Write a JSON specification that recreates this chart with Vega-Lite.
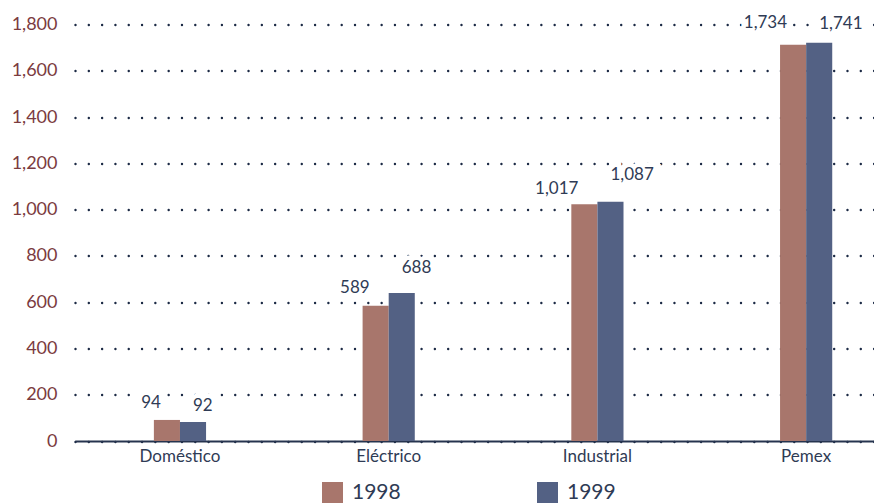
{
  "$schema": "https://vega.github.io/schema/vega-lite/v6.json",
  "width": 799,
  "height": 416.5,
  "autosize": "none",
  "padding": {"left": 75, "top": 24.5, "right": 0, "bottom": 62},
  "background": "white",
  "config": {"font": "Lato", "view": {"stroke": null}},
  "data": {
    "values": [
      {"sector": "Doméstico", "year": "1998", "value": 91, "label": 94},
      {"sector": "Doméstico", "year": "1999", "value": 82, "label": 92},
      {"sector": "Eléctrico", "year": "1998", "value": 585, "label": 589},
      {"sector": "Eléctrico", "year": "1999", "value": 640, "label": 688},
      {"sector": "Industrial", "year": "1998", "value": 1023, "label": 1017},
      {"sector": "Industrial", "year": "1999", "value": 1034, "label": 1087},
      {"sector": "Pemex", "year": "1998", "value": 1713, "label": 1734},
      {"sector": "Pemex", "year": "1999", "value": 1721, "label": 1741}
    ]
  },
  "encoding": {
    "x": {
      "field": "sector",
      "type": "nominal",
      "sort": ["Doméstico", "Eléctrico", "Industrial", "Pemex"],
      "scale": {"paddingInner": 0.5, "paddingOuter": 0.164, "align": 0.771},
      "axis": {
        "title": null,
        "labelAngle": 0,
        "ticks": false,
        "labelPadding": 7,
        "labelFontSize": 17,
        "labelColor": "#2f3b55",
        "domainColor": "#26344f",
        "domainWidth": 2,
        "grid": false
      }
    },
    "xOffset": {
      "field": "year",
      "type": "nominal",
      "scale": {"domain": ["1998", "1999"], "paddingInner": 0, "paddingOuter": 1.05}
    }
  },
  "layer": [
    {
      "transform": [{"filter": "datum.year == '1998'"}],
      "mark": {"type": "text", "align": "right", "baseline": "middle", "dx": -6, "dy": -16.5, "fontSize": 17, "stroke": "white", "strokeWidth": 9, "fill": "white"},
      "encoding": {
        "y": {"field": "label", "type": "quantitative"},
        "text": {"field": "label", "type": "quantitative", "format": ",.0f"}
      }
    },
    {
      "transform": [{"filter": "datum.year == '1999'"}],
      "mark": {"type": "text", "align": "left", "baseline": "middle", "dx": 0, "dy": -14, "fontSize": 17, "stroke": "white", "strokeWidth": 9, "fill": "white"},
      "encoding": {
        "y": {"field": "label", "type": "quantitative"},
        "text": {"field": "label", "type": "quantitative", "format": ",.0f"}
      }
    },
    {
      "mark": {"type": "bar"},
      "encoding": {
        "y": {
          "field": "value",
          "type": "quantitative",
          "scale": {"domain": [0, 1800], "nice": false},
          "axis": {
            "title": null,
            "values": [0, 200, 400, 600, 800, 1000, 1200, 1400, 1600, 1800],
            "format": ",.0f",
            "ticks": false,
            "domain": false,
            "labelPadding": 18,
            "labelFontSize": 18,
            "labelColor": "#7b3b40",
            "grid": true,
            "gridColor": "#1c2a45",
            "gridDash": [0.01, 13.3],
            "gridCap": "round",
            "gridWidth": 2.4
          }
        },
        "color": {
          "field": "year",
          "type": "nominal",
          "scale": {"domain": ["1998", "1999"], "range": ["#a8766c", "#536184"]},
          "legend": {
            "title": null,
            "orient": "none",
            "legendX": 247,
            "legendY": 457.5,
            "direction": "horizontal",
            "symbolType": "square",
            "symbolSize": 441,
            "symbolStrokeWidth": 0,
            "symbolOpacity": 1,
            "labelFontSize": 21,
            "labelColor": "#2f3b55",
            "labelOffset": 9,
            "columnPadding": 136
          }
        }
      }
    },
    {
      "transform": [{"filter": "datum.year == '1998'"}],
      "mark": {"type": "text", "align": "right", "baseline": "middle", "dx": -6, "dy": -16.5, "fontSize": 17, "color": "#2f3b55"},
      "encoding": {
        "y": {"field": "label", "type": "quantitative"},
        "text": {"field": "label", "type": "quantitative", "format": ",.0f"}
      }
    },
    {
      "transform": [{"filter": "datum.year == '1999'"}],
      "mark": {"type": "text", "align": "left", "baseline": "middle", "dx": 0, "dy": -14, "fontSize": 17, "color": "#2f3b55"},
      "encoding": {
        "y": {"field": "label", "type": "quantitative"},
        "text": {"field": "label", "type": "quantitative", "format": ",.0f"}
      }
    }
  ]
}
